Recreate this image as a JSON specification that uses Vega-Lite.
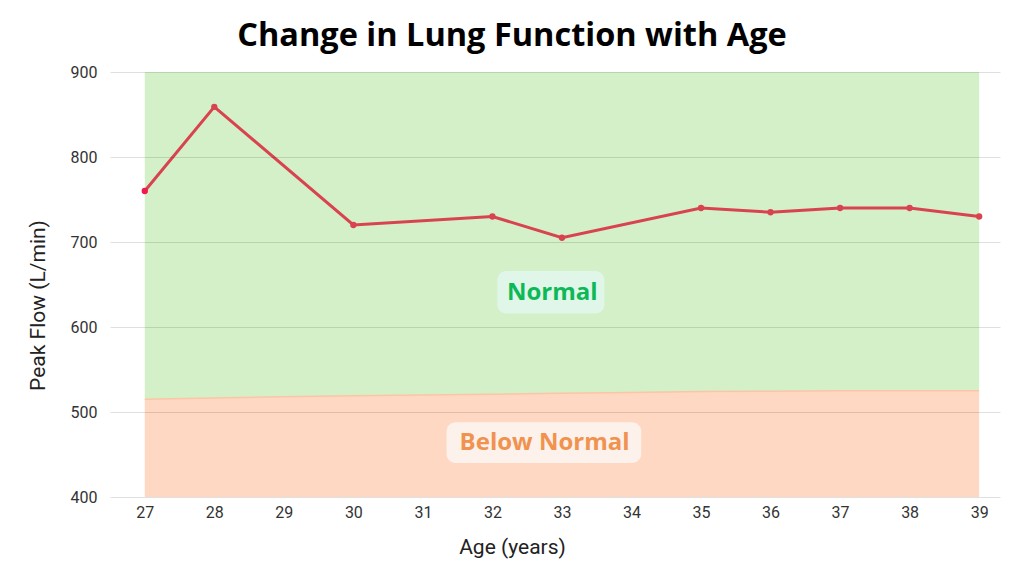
{
  "$schema": "https://vega.github.io/schema/vega-lite/v6.json",
  "width": 890,
  "height": 425,
  "autosize": "none",
  "padding": {"left": 110, "top": 72, "right": 24, "bottom": 79},
  "background": "white",
  "title": {
    "text": "Change in Lung Function with Age",
    "font": "Open Sans",
    "fontSize": 32.5,
    "fontWeight": 700,
    "color": "#000000",
    "anchor": "middle",
    "dx": -43,
    "offset": 12
  },
  "datasets": {
    "flow": [
      {"age": 27, "flow": 760},
      {"age": 28, "flow": 859},
      {"age": 30, "flow": 720},
      {"age": 32, "flow": 730},
      {"age": 33, "flow": 705},
      {"age": 35, "flow": 740},
      {"age": 36, "flow": 735},
      {"age": 37, "flow": 740},
      {"age": 38, "flow": 740},
      {"age": 39, "flow": 730}
    ],
    "bands": [
      {"age": 27, "boundary": 515},
      {"age": 28, "boundary": 516.5},
      {"age": 29, "boundary": 518},
      {"age": 30, "boundary": 519},
      {"age": 31, "boundary": 520},
      {"age": 32, "boundary": 521},
      {"age": 33, "boundary": 522},
      {"age": 34, "boundary": 523},
      {"age": 35, "boundary": 524},
      {"age": 36, "boundary": 524.5},
      {"age": 37, "boundary": 525},
      {"age": 38, "boundary": 525},
      {"age": 39, "boundary": 525}
    ],
    "zones": [
      {"zone": "Normal", "cx": 32.86, "cy": 640, "x0": 32.07, "x1": 33.61, "y0": 616, "y1": 666},
      {"zone": "Below Normal", "cx": 32.75, "cy": 463, "x0": 31.34, "x1": 34.14, "y0": 440, "y1": 488}
    ]
  },
  "encoding": {
    "x": {
      "type": "quantitative",
      "scale": {"domain": [26.5, 39.3], "nice": false, "zero": false},
      "axis": {
        "title": "Age (years)",
        "values": [27, 28, 29, 30, 31, 32, 33, 34, 35, 36, 37, 38, 39],
        "grid": false,
        "domain": false,
        "ticks": false,
        "labelPadding": 7,
        "titlePadding": 16,
        "titleX": 402
      }
    },
    "y": {
      "type": "quantitative",
      "scale": {"domain": [400, 900], "nice": false, "zero": false},
      "axis": {
        "title": "Peak Flow (L/min)",
        "values": [400, 500, 600, 700, 800, 900],
        "grid": true,
        "gridColor": "#000000",
        "gridOpacity": 0.12,
        "domain": false,
        "ticks": false,
        "labelPadding": 13,
        "titlePadding": 22,
        "titleY": 233,
        "zindex": 1
      }
    }
  },
  "layer": [
    {
      "data": {"name": "bands"},
      "mark": {"type": "area", "color": "#d3f0c8", "opacity": 1},
      "encoding": {
        "x": {"field": "age"},
        "y": {"field": "boundary"},
        "y2": {"datum": 900}
      }
    },
    {
      "data": {"name": "bands"},
      "mark": {"type": "area", "color": "#fed8c3", "opacity": 1},
      "encoding": {
        "x": {"field": "age"},
        "y": {"field": "boundary"},
        "y2": {"datum": 400}
      }
    },
    {
      "data": {"name": "bands"},
      "mark": {"type": "line", "color": "#fcc5a5", "strokeWidth": 1.5},
      "encoding": {
        "x": {"field": "age"},
        "y": {"field": "boundary"}
      }
    },
    {
      "data": {"name": "zones"},
      "mark": {"type": "rect", "cornerRadius": 9},
      "encoding": {
        "x": {"field": "x0"},
        "x2": {"field": "x1"},
        "y": {"field": "y0"},
        "y2": {"field": "y1"},
        "color": {
          "field": "zone",
          "type": "nominal",
          "scale": {"domain": ["Normal", "Below Normal"], "range": ["#e0f6e9", "#fcf1eb"]},
          "legend": null
        }
      }
    },
    {
      "data": {"name": "zones"},
      "mark": {"type": "text", "font": "Open Sans", "fontSize": 24, "fontWeight": 700, "align": "center", "baseline": "middle"},
      "encoding": {
        "x": {"field": "cx"},
        "y": {"field": "cy"},
        "text": {"field": "zone"},
        "color": {
          "field": "zone",
          "type": "nominal",
          "scale": {"domain": ["Normal", "Below Normal"], "range": ["#0db957", "#f1924f"]},
          "legend": null
        }
      }
    },
    {
      "data": {"name": "flow"},
      "mark": {"type": "line", "color": "#d8434f", "strokeWidth": 3},
      "encoding": {
        "x": {"field": "age"},
        "y": {"field": "flow"}
      }
    },
    {
      "data": {"name": "flow"},
      "mark": {"type": "point", "filled": true, "size": 40, "opacity": 1},
      "encoding": {
        "x": {"field": "age"},
        "y": {"field": "flow"},
        "color": {
          "condition": {"test": "datum.age == 27", "value": "#ee1a4c"},
          "value": "#d8434f"
        }
      }
    }
  ],
  "resolve": {"scale": {"color": "independent"}},
  "config": {
    "view": {"stroke": null},
    "axis": {
      "labelFont": "Roboto",
      "labelFontSize": 16,
      "labelColor": "#333333",
      "titleFont": "Roboto",
      "titleFontSize": 21,
      "titleFontWeight": 400,
      "titleColor": "#222222"
    }
  }
}
